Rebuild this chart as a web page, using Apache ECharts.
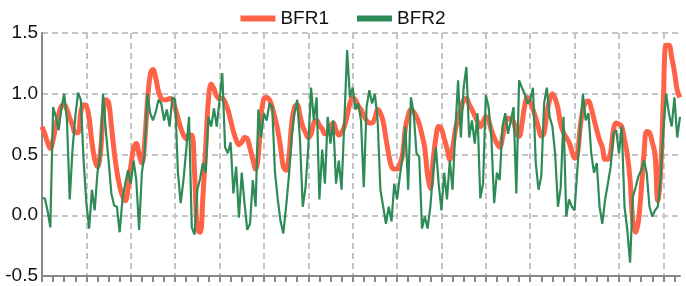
<!DOCTYPE html>
<html>
<head>
<meta charset="utf-8">
<script src="https://cdn.jsdelivr.net/npm/echarts@6/dist/echarts.min.js"></script>
<style>
  html, body { margin: 0; padding: 0; background: #fff; }
  #chart { width: 686px; height: 286px; }
</style>
</head>
<body>
<div id="chart"></div>
<script>
// values, one per category step
const bfr1 = [
  0.73,0.67,0.6,0.55,0.62,0.74,0.83,0.9,0.91,0.87,0.8,0.74,0.68,0.68,0.85,0.91,
  0.9,0.8,0.6,0.46,0.4,0.5,0.8,0.95,0.93,0.74,0.53,0.36,0.24,0.16,0.12,0.22,
  0.4,0.55,0.59,0.5,0.43,0.6,0.93,1.15,1.2,1.13,1.02,0.96,0.95,0.95,0.96,0.95,
  0.88,0.8,0.72,0.66,0.63,0.66,0.66,0.35,-0.12,-0.14,0.15,0.55,0.95,1.08,1.04,0.98,
  0.96,0.96,0.93,0.87,0.78,0.69,0.62,0.58,0.6,0.64,0.63,0.55,0.46,0.38,0.5,0.82,
  0.96,0.97,0.95,0.89,0.8,0.7,0.56,0.4,0.37,0.48,0.75,0.89,0.91,0.82,0.73,0.68,
  0.64,0.67,0.76,0.78,0.74,0.71,0.67,0.67,0.73,0.76,0.7,0.66,0.68,0.73,0.82,0.92,
  0.97,0.95,0.9,0.87,0.82,0.78,0.76,0.76,0.8,0.87,0.84,0.77,0.63,0.5,0.4,0.38,
  0.38,0.42,0.5,0.72,0.82,0.87,0.85,0.81,0.75,0.66,0.55,0.33,0.22,0.45,0.64,0.73,
  0.71,0.63,0.55,0.46,0.55,0.7,0.8,0.87,0.95,0.96,0.91,0.87,0.82,0.77,0.73,0.77,
  0.81,0.78,0.7,0.64,0.59,0.56,0.64,0.76,0.8,0.79,0.77,0.68,0.65,0.75,0.9,0.97,
  0.93,0.87,0.8,0.72,0.65,0.68,0.84,0.95,1.0,0.96,0.88,0.75,0.68,0.64,0.6,0.53,
  0.47,0.5,0.72,0.87,0.93,0.94,0.88,0.79,0.7,0.62,0.56,0.46,0.46,0.52,0.7,0.76,
  0.75,0.73,0.62,0.5,0.29,-0.05,-0.14,-0.05,0.2,0.5,0.69,0.68,0.6,0.5,0.12,0.35,
  0.95,1.4,1.4,1.3,1.18,1.03,0.97
];

const bfr2 = [
  0.14,0.14,0.04,-0.1,0.89,0.81,0.7,0.88,1.0,0.78,0.13,0.54,0.81,1.01,0.95,0.45,
  0.1,-0.11,0.21,0.04,0.35,0.5,1.0,0.7,0.45,0.18,0.08,0.07,-0.14,0.13,0.26,0.37,
  0.26,0.45,0.29,-0.12,0.35,0.51,1.0,0.84,0.78,0.85,0.95,0.92,0.78,0.87,0.73,0.97,
  0.95,0.35,0.1,0.29,0.54,0.81,-0.1,-0.16,0.21,0.3,0.43,0.35,0.81,0.73,0.88,0.73,
  0.95,1.17,0.56,0.51,0.6,0.18,0.4,-0.02,0.35,0.1,-0.12,-0.07,0.29,0.07,0.87,0.64,
  0.84,0.78,0.92,0.89,0.35,0.13,-0.05,-0.15,0.07,0.32,0.64,0.84,0.95,0.62,0.07,0.23,
  0.56,1.05,0.78,0.97,0.13,0.54,0.26,0.81,0.59,0.78,0.26,0.45,0.21,0.78,1.36,0.97,
  1.05,0.87,0.92,0.78,0.23,0.89,1.03,0.92,1.0,0.78,0.21,0.07,-0.07,0.07,-0.05,0.26,
  0.13,0.32,0.48,0.73,0.21,0.97,0.84,0.51,0.48,-0.11,-0.01,-0.11,0.07,0.35,0.56,0.26,
  0.04,0.35,0.13,0.45,0.21,0.7,1.11,0.64,1.05,1.22,0.64,0.78,0.59,0.84,0.14,0.26,
  0.99,0.89,0.64,0.1,0.35,0.29,0.73,0.84,0.67,0.78,0.89,0.18,1.11,1.05,1.0,0.92,
  0.95,1.05,0.43,0.21,0.32,0.92,1.05,0.81,0.73,0.5,0.07,0.23,0.81,-0.01,0.13,0.07,
  0.04,0.38,0.7,1.0,0.78,0.84,0.51,0.35,0.43,0.07,-0.07,0.13,0.26,0.4,0.67,0.7,
  0.51,0.73,0.07,-0.12,-0.39,0.15,0.23,0.32,0.37,0.45,0.35,0.07,-0.01,0.04,0.07,0.29,
  0.7,1.0,0.84,0.73,0.97,0.64,0.81
];

const categories = bfr1.map((_, i) => i + 1);
const seriesNames = ['BFR1', 'BFR2'];
const yMin = -0.5, yMax = 1.5, yStep = 0.5;

const chart = echarts.init(document.getElementById('chart'));
const font = 'Liberation Sans, Arial, sans-serif';

chart.setOption({
    animation: false,
    legend: {
        top: 4,
        left: 'center',
        icon: 'rect',
        itemWidth: 35,
        itemHeight: 6,
        itemGap: 28,
        textStyle: { fontSize: 19, color: '#111', fontFamily: font },
        data: seriesNames
    },
    grid: { left: 42, right: 6, top: 33, bottom: 10 },
    xAxis: {
        type: 'category',
        data: categories,
        boundaryGap: false,
        axisLine: { onZero: false, lineStyle: { color: '#888', width: 2 } },
        axisTick: { interval: 3, length: 6, lineStyle: { color: '#888', width: 2 } },
        axisLabel: { show: false },
        splitLine: {
            show: true,
            interval: 15,
            lineStyle: { color: '#c4c4c4', width: 2, type: [6, 4] }
        }
    },
    yAxis: {
        type: 'value',
        min: yMin,
        max: yMax,
        interval: yStep,
        axisLine: { show: true, lineStyle: { color: '#888', width: 2 } },
        axisTick: { show: false },
        axisLabel: {
            margin: 4,
            fontSize: 19,
            color: '#111',
            fontFamily: font,
            formatter: v => v.toFixed(1)
        },
        splitLine: { lineStyle: { color: '#c4c4c4', width: 2, type: [6, 4] } }
    },
    series: [
        {
            name: seriesNames[0],
            type: 'line',
            data: bfr1,
            color: '#ff6347',
            showSymbol: false,
            smooth: 0.4,
            lineStyle: { width: 5 }
        },
        {
            name: seriesNames[1],
            type: 'line',
            data: bfr2,
            color: '#2e8b57',
            showSymbol: false,
            lineStyle: { width: 2.2 }
        }
    ]
});
</script>
</body>
</html>
